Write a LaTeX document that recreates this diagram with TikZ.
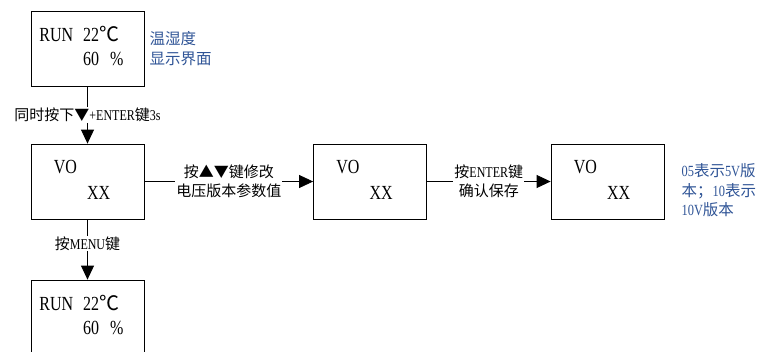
\documentclass[tikz,border=0pt]{standalone}
\usepackage{fontspec}
\setmainfont[FakeStretch=0.8]{Liberation Serif}
\newfontfamily\cjk{Noto Sans CJK SC}
\newcommand{\zh}[1]{{\cjk #1}}
\usetikzlibrary{positioning, arrows.meta}
\definecolor{noteblue}{RGB}{47,84,150}

% screen contents
\newcommand{\runtext}{\begin{tabular}{@{}l@{\hspace{10pt}}l@{}}RUN & 22\zh{℃}\\ & 60\hspace{11pt}\%\end{tabular}\hspace*{12pt}}
\newcommand{\votext}{\begin{tabular}{@{}l@{\hspace{10pt}}l@{}}VO & \\[2pt] & XX\end{tabular}\hspace*{11pt}}

\begin{document}
\begin{tikzpicture}[x=1pt, y=-1pt,
  screen/.style={rectangle, draw, line width=0.8pt, minimum width=113pt,
                 minimum height=75pt, inner sep=0pt,
                 font=\fontsize{20}{24}\selectfont},
  keylbl/.style={fill=white, inner sep=1pt, align=center,
                 font=\fontsize{15}{19}\selectfont},
  note/.style={text=noteblue, align=left, inner sep=0pt,
               font=\fontsize{15.5}{19.5}\selectfont},
  arr/.style={-{Triangle[length=14pt, width=13pt]}, line width=0.8pt}
]
  \useasboundingbox (0,0) rectangle (762,351);

  \node[screen] (run1) at (87.5,48.5) {\runtext};
  \node[screen] (vo1) at (87.5,181.5) {\votext};
  \node[screen] (vo2) at (370,181.5) {\votext};
  \node[screen] (vo3) at (607.5,181.5) {\votext};
  \node[screen] (run2) at (87.5,317.5) {\runtext};

  \draw[arr] (run1) -- node[keylbl] (keyA) {\zh{同时按下▼}+ENTER\zh{键}3s} (vo1);
  \draw[arr] (vo1) -- node[keylbl] (keyB) {\zh{按▲▼键修改}\\\zh{电压版本参数值}} (vo2);
  \draw[arr] (vo2) -- node[keylbl] (keyC) {\zh{按}ENTER\zh{键}\\\zh{确认保存}} (vo3);
  \draw[arr] (vo1) -- node[keylbl, pos=0.4] (keyD) {\zh{按}MENU\zh{键}} (run2);

  \node[note, right=5pt of run1] (noteA) {\zh{温湿度}\\\zh{显示界面}};
  \node[note, right=17pt of vo3, yshift=-9pt] (noteB)
    {05\zh{表示}5V\zh{版}\\\zh{本；}10\zh{表示}\\10V\zh{版本}};
\end{tikzpicture}
\end{document}
